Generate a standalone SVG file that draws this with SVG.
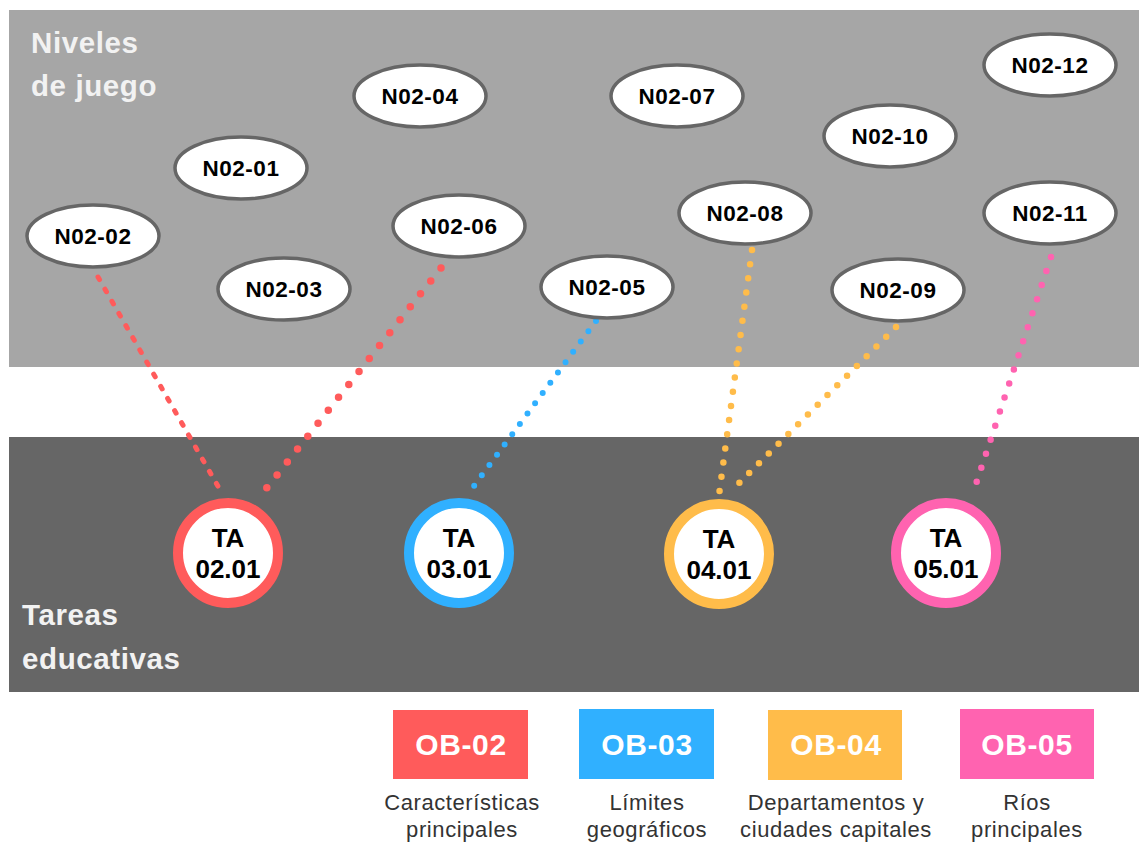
<svg xmlns="http://www.w3.org/2000/svg" width="1139" height="843" viewBox="0 0 1139 843">
<style>
text{font-family:"Liberation Sans",Arial,sans-serif}
.band{font-size:29.5px;font-weight:bold;fill:#f2f2f2;letter-spacing:0.6px}
.ell{fill:#fff;stroke:#666;stroke-width:3.5}
.nl{font-size:22.5px;font-weight:bold;fill:#000;text-anchor:middle;letter-spacing:0.5px}
.ring{fill:#fff;stroke-width:10}
.tl{font-size:26px;font-weight:bold;fill:#000;text-anchor:middle}
.ob{font-size:30px;font-weight:bold;fill:#fff;text-anchor:middle;letter-spacing:0.6px}
.cap{font-size:22px;fill:#333;text-anchor:middle;letter-spacing:0.6px}
.c{fill:none;stroke-linecap:round}
</style>
<rect x="9" y="10" width="1130" height="357" fill="#a6a6a6"/>
<rect x="9" y="437" width="1130" height="255" fill="#666"/>
<text class="band" x="31" y="53">Niveles</text>
<text class="band" x="31" y="96">de juego</text>
<text class="band" x="22" y="625">Tareas</text>
<text class="band" x="22" y="669">educativas</text>
<g id="connectors">
<line class="c" x1="98" y1="277" x2="223" y2="495" stroke="#ff5b5b" stroke-width="5" stroke-dasharray="3 11"/>
<line class="c" x1="441" y1="268" x2="258" y2="499" stroke="#ff5b5b" stroke-width="7.5" stroke-dasharray="0 16.5"/>
<line class="c" x1="596" y1="321" x2="468" y2="494" stroke="#30b0ff" stroke-width="6" stroke-dasharray="0 12.8"/>
<line class="c" x1="752" y1="250" x2="719" y2="495" stroke="#ffbc4a" stroke-width="6.5" stroke-dasharray="0 14.3"/>
<line class="c" x1="896" y1="327" x2="730" y2="492" stroke="#ffbc4a" stroke-width="6.5" stroke-dasharray="0 13.8"/>
<line class="c" x1="1051" y1="257" x2="973" y2="493" stroke="#ff63b0" stroke-width="6.5" stroke-dasharray="0 14.8"/>
</g>
<g id="n0201"><ellipse class="ell" cx="241" cy="168" rx="66" ry="31"/><text class="nl" x="241" y="176">N02-01</text></g>
<g id="n0202"><ellipse class="ell" cx="93" cy="236" rx="66" ry="31"/><text class="nl" x="93" y="244">N02-02</text></g>
<g id="n0203"><ellipse class="ell" cx="284" cy="289" rx="66" ry="31"/><text class="nl" x="284" y="297">N02-03</text></g>
<g id="n0204"><ellipse class="ell" cx="420" cy="96" rx="66" ry="31"/><text class="nl" x="420" y="104">N02-04</text></g>
<g id="n0205"><ellipse class="ell" cx="607" cy="287" rx="66" ry="31"/><text class="nl" x="607" y="295">N02-05</text></g>
<g id="n0206"><ellipse class="ell" cx="459" cy="226" rx="66" ry="31"/><text class="nl" x="459" y="234">N02-06</text></g>
<g id="n0207"><ellipse class="ell" cx="677" cy="96" rx="66" ry="31"/><text class="nl" x="677" y="104">N02-07</text></g>
<g id="n0208"><ellipse class="ell" cx="745" cy="213" rx="66" ry="31"/><text class="nl" x="745" y="221">N02-08</text></g>
<g id="n0209"><ellipse class="ell" cx="898" cy="290" rx="66" ry="31"/><text class="nl" x="898" y="298">N02-09</text></g>
<g id="n0210"><ellipse class="ell" cx="890" cy="136" rx="66" ry="31"/><text class="nl" x="890" y="144">N02-10</text></g>
<g id="n0211"><ellipse class="ell" cx="1050" cy="213" rx="66" ry="31"/><text class="nl" x="1050" y="221">N02-11</text></g>
<g id="n0212"><ellipse class="ell" cx="1050" cy="65" rx="66" ry="31"/><text class="nl" x="1050" y="73">N02-12</text></g>
<g id="ta0201"><circle class="ring" cx="228" cy="553" r="50" stroke="#ff5b5b"/><text class="tl" x="228" y="547">TA</text><text class="tl" x="228" y="578">02.01</text></g>
<g id="ta0301"><circle class="ring" cx="459" cy="553" r="50" stroke="#30b0ff"/><text class="tl" x="459" y="547">TA</text><text class="tl" x="459" y="578">03.01</text></g>
<g id="ta0401"><circle class="ring" cx="719" cy="554" r="50" stroke="#ffbc4a"/><text class="tl" x="719" y="548">TA</text><text class="tl" x="719" y="579">04.01</text></g>
<g id="ta0501"><circle class="ring" cx="946" cy="553" r="50" stroke="#ff63b0"/><text class="tl" x="946" y="547">TA</text><text class="tl" x="946" y="578">05.01</text></g>
<g id="ob02"><rect x="393" y="710" width="135" height="69" fill="#ff5b5b"/><text class="ob" x="461" y="755">OB-02</text><text class="cap" x="462" y="810">Características</text><text class="cap" x="462" y="837">principales</text></g>
<g id="ob03"><rect x="579" y="709" width="135" height="70" fill="#30b0ff"/><text class="ob" x="647" y="755">OB-03</text><text class="cap" x="647" y="810">Límites</text><text class="cap" x="647" y="837">geográficos</text></g>
<g id="ob04"><rect x="768" y="710" width="134" height="70" fill="#ffbc4a"/><text class="ob" x="836" y="755">OB-04</text><text class="cap" x="836" y="810">Departamentos y</text><text class="cap" x="836" y="837">ciudades capitales</text></g>
<g id="ob05"><rect x="960" y="709" width="134" height="70" fill="#ff63b0"/><text class="ob" x="1027" y="755">OB-05</text><text class="cap" x="1027" y="810">Ríos</text><text class="cap" x="1027" y="837">principales</text></g>
</svg>
